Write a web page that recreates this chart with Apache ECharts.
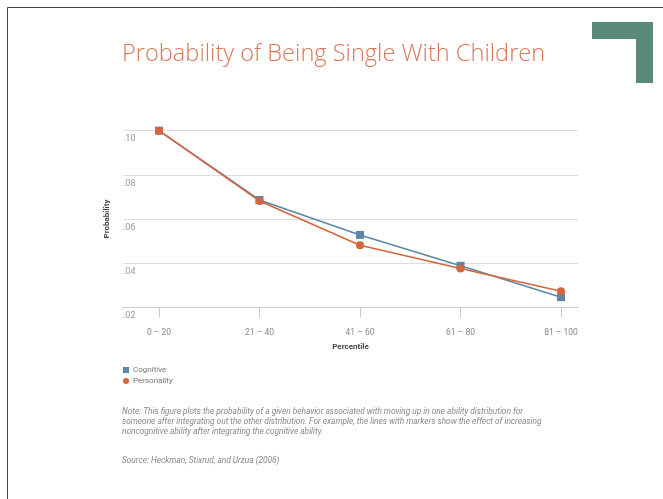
<!DOCTYPE html>
<html>
<head>
<meta charset="utf-8">
<script src="https://cdn.jsdelivr.net/npm/echarts@6/dist/echarts.min.js"></script>
<style>
html,body{margin:0;padding:0;background:#fff;}
#chart{width:663px;height:499px;}
</style>
</head>
<body>
<div id="chart"></div>
<script>
var categories = ['0 \u2013 20', '21 \u2013 40', '41 \u2013 60', '61 \u2013 80', '81 \u2013 100'];
var cognitive = [0.100, 0.0686, 0.0528, 0.0388, 0.0246];
var personality = [0.100, 0.0682, 0.0481, 0.0376, 0.0273];
var yTicks = [0.02, 0.04, 0.06, 0.08, 0.10];
var noteLines = [
  'Note: This figure plots the probability of a given behavior associated with moving up in one ability distribution for',
  'someone after integrating out the other distribution. For example, the lines with markers show the effect of increasing',
  'noncognitive ability after integrating the cognitive ability.'
];
var sourceText = 'Source: Heckman, Stixrud, and Urzua (2006)';

var chart = echarts.init(document.getElementById('chart'));
function pairs(arr){ return arr.map(function(v,i){ return [i, v]; }); }
var catIdx = categories.map(function(c,i){ return i; });

var graphics = [
  {type:'line', shape:{x1:7.5,y1:7.5,x2:663,y2:7.5}, style:{stroke:'#444',lineWidth:1}},
  {type:'line', shape:{x1:7.5,y1:7.5,x2:7.5,y2:499}, style:{stroke:'#444',lineWidth:1}},
  {type:'rect', shape:{x:592,y:22,width:61,height:17}, style:{fill:'#5a8a7b'}},
  {type:'rect', shape:{x:636,y:22,width:17,height:61}, style:{fill:'#5a8a7b'}}
];
noteLines.forEach(function(t,i){
  graphics.push({type:'text', left:122, top:408 + i*10, style:{text:t, fill:'#888', fontSize:8.3, fontStyle:'italic', fontFamily:'Roboto'}});
});
graphics.push({type:'text', left:122, top:457, style:{text:sourceText, fill:'#888', fontSize:8.3, fontStyle:'italic', fontFamily:'Roboto'}});

chart.setOption({
  animation:false,
  backgroundColor:'#fff',
  title:{
    text:'Probability of Being Single With Children',
    left:122, top:42, padding:0,
    textStyle:{color:'#d9785a', fontSize:23.6, fontWeight:300, fontFamily:'Open Sans'}
  },
  legend:{
    orient:'vertical', left:123, top:366, padding:0,
    itemWidth:6, itemHeight:6, itemGap:3,
    textStyle:{fontSize:8, color:'#777', fontFamily:'Roboto', padding:[0,0,0,-1]},
    data:[{name:'Cognitive', icon:'rect'},{name:'Personality', icon:'circle'}]
  },
  grid:{left:123, right:85, top:130.7, bottom:191.7, containLabel:false},
  xAxis:{
    type:'value', min:-0.358, max:4.169,
    name:'Percentile', nameLocation:'middle', nameGap:36,
    nameTextStyle:{fontSize:8, fontWeight:'bold', color:'#444', fontFamily:'Roboto'},
    axisLine:{show:true, lineStyle:{color:'#ccc'}},
    axisTick:{show:true, customValues:catIdx, length:10, lineStyle:{color:'#ccc'}},
    axisLabel:{customValues:catIdx, margin:21, fontSize:8.5, color:'#888', fontFamily:'Roboto',
      formatter:function(v){ return categories[Math.round(v)]; }},
    splitLine:{show:false}
  },
  yAxis:{
    type:'value', min:0.02, max:0.10, interval:0.02,
    name:'Probability', nameLocation:'middle', nameRotate:90, nameGap:12,
    nameTextStyle:{fontSize:8, fontWeight:'bold', color:'#444', fontFamily:'Roboto'},
    axisLine:{show:false}, axisTick:{show:false},
    axisLabel:{inside:true, margin:0, verticalAlign:'top', padding:[4,0,0,0], fontSize:9, color:'#999', fontFamily:'Roboto',
      formatter:function(v){ return v.toFixed(2).replace(/^0/,''); }},
    splitLine:{show:true, lineStyle:{color:'#ddd'}}
  },
  series:[
    {name:'Cognitive', type:'line', data:pairs(cognitive), symbol:'rect', symbolSize:8,
      lineStyle:{color:'#5b88a6', width:1.6}, itemStyle:{color:'#5b88a6'}},
    {name:'Personality', type:'line', data:pairs(personality), symbol:'circle', symbolSize:8,
      lineStyle:{color:'#d8643b', width:1.6}, itemStyle:{color:'#d8643b'}}
  ],
  graphic:graphics
});
</script>
</body>
</html>
